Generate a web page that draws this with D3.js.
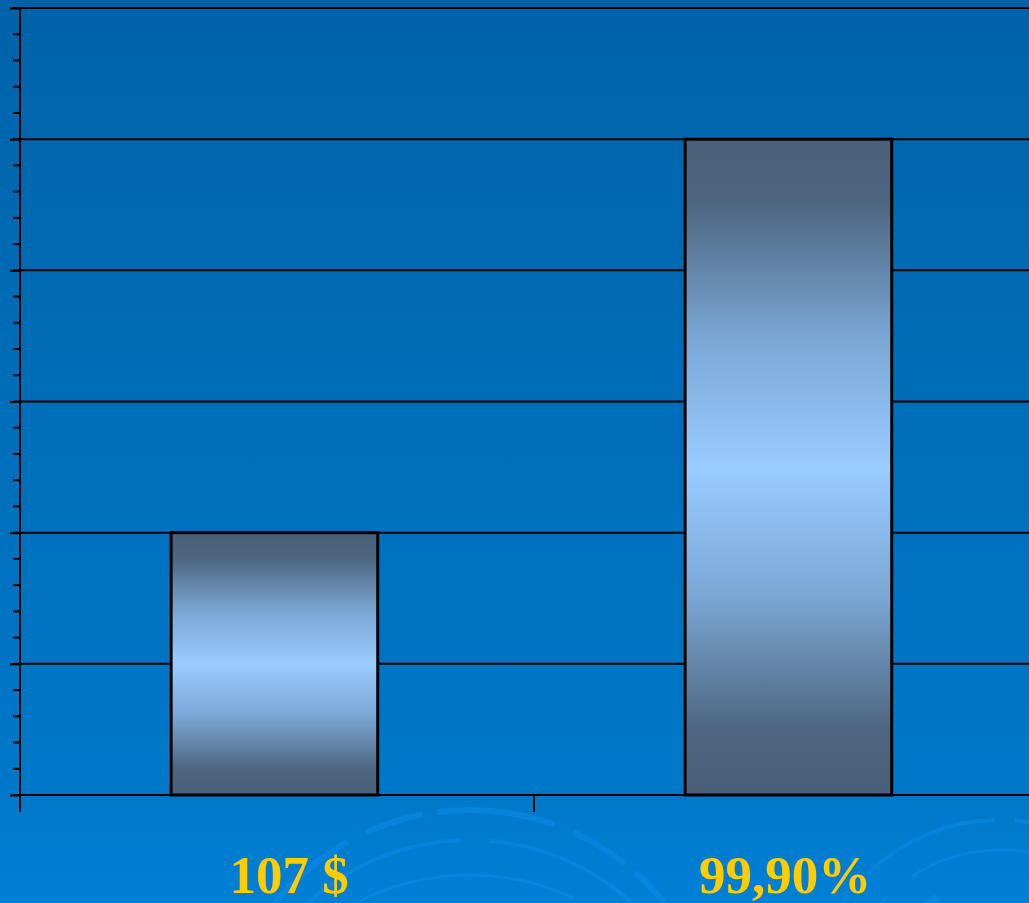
<!DOCTYPE html>
<html>
<head>
<meta charset="utf-8">
<script src="https://cdn.jsdelivr.net/npm/d3@7"></script>
<style>
  html, body { margin: 0; padding: 0; overflow: hidden; }
  svg { display: block; }
</style>
</head>
<body>
<div id="svg-area"></div>
<script>
var categories = ["107 $", "99,90%"];
var values = [2, 5];
var yTicks = [0, 1, 2, 3, 4, 5, 6];

var svgWidth = 1029;
var svgHeight = 903;

var margin = { top: 8, right: 0, bottom: 108, left: 20 };
var chartwidth = 1028; // plot runs past the right edge of the picture
var chartheight = svgHeight - margin.top - margin.bottom;

var svg = d3.select("#svg-area")
  .append("svg")
  .attr("width", svgWidth)
  .attr("height", svgHeight);

var defs = svg.append("defs");

// background gradient
var bg = defs.append("linearGradient")
  .attr("id", "bg").attr("x1", 0).attr("y1", 0).attr("x2", 0).attr("y2", 1);
bg.append("stop").attr("offset", "0%").attr("stop-color", "#0063a9");
bg.append("stop").attr("offset", "88%").attr("stop-color", "#0078c9");
bg.append("stop").attr("offset", "100%").attr("stop-color", "#0080d6");

// bar gradient, dark at both ends, light in the middle
var bar = defs.append("linearGradient")
  .attr("id", "bar").attr("x1", 0).attr("y1", 0).attr("x2", 0).attr("y2", 1);
bar.append("stop").attr("offset", "0%").attr("stop-color", "#4a5f78");
bar.append("stop").attr("offset", "10%").attr("stop-color", "#4e6680");
bar.append("stop").attr("offset", "30%").attr("stop-color", "#7aa6d4");
bar.append("stop").attr("offset", "50%").attr("stop-color", "#99ccff");
bar.append("stop").attr("offset", "70%").attr("stop-color", "#7aa6d4");
bar.append("stop").attr("offset", "90%").attr("stop-color", "#4e6680");
bar.append("stop").attr("offset", "100%").attr("stop-color", "#4a5f78");

svg.append("rect")
  .attr("width", svgWidth).attr("height", svgHeight)
  .attr("fill", "url(#bg)");

// faint swirl decoration at the bottom
var deco = svg.append("g")
  .attr("fill", "none")
  .attr("stroke", "#0a8ae6")
  .attr("stroke-opacity", 0.6);
[[470, 1060, 250, 6, "60 14 120 20"], [470, 1080, 240, 4, "200 30"], [470, 1120, 245, 3, "300 20"],
 [470, 1110, 200, 2, "400 40"],
 [1000, 1010, 190, 4, "140 20 60 30"], [1000, 1010, 160, 3, "300 30"], [1000, 1000, 120, 8, "500"]].forEach(function(a) {
  deco.append("circle")
    .attr("cx", a[0]).attr("cy", a[1])
    .attr("r", a[2])
    .attr("stroke-width", a[3])
    .attr("stroke-dasharray", a[4]);
});

var chartGroup = svg.append("g")
  .attr("transform", `translate(${margin.left}, ${margin.top})`);

var xCatScale = d3.scaleBand()
  .domain(categories)
  .range([0, chartwidth]);

var yLinearScale = d3.scaleLinear()
  .domain([0, 6])
  .range([chartheight, 0]);

var barOffset = 0.294 * xCatScale.bandwidth();
var barWidth = 0.402 * xCatScale.bandwidth();

// gridlines
chartGroup.append("g")
  .selectAll("line")
  .data(yTicks.slice(1))
  .enter()
  .append("line")
  .attr("x1", 0)
  .attr("x2", chartwidth)
  .attr("y1", d => yLinearScale(d))
  .attr("y2", d => yLinearScale(d))
  .attr("stroke", "#000")
  .attr("stroke-width", 2);

// minor ticks
var minorTicks = d3.range(0, 6.001, 0.2);
chartGroup.append("g")
  .selectAll("line")
  .data(minorTicks)
  .enter()
  .append("line")
  .attr("x1", -7)
  .attr("x2", 0)
  .attr("y1", d => yLinearScale(d))
  .attr("y2", d => yLinearScale(d))
  .attr("stroke", "#000")
  .attr("stroke-width", 2);

// left axis with major ticks
var leftAxis = d3.axisLeft(yLinearScale)
  .tickValues(yTicks)
  .tickSize(10)
  .tickFormat("");
var yAxisG = chartGroup.append("g").call(leftAxis);
yAxisG.select(".domain").remove();
yAxisG.selectAll(".tick line").attr("stroke", "#000").attr("stroke-width", 2);
chartGroup.append("line")
  .attr("x1", 0).attr("x2", 0)
  .attr("y1", 0).attr("y2", chartheight + 17)
  .attr("stroke", "#000").attr("stroke-width", 2);

// bottom axis
chartGroup.append("line")
  .attr("x1", 0).attr("x2", chartwidth)
  .attr("y1", chartheight).attr("y2", chartheight)
  .attr("stroke", "#000").attr("stroke-width", 2);
chartGroup.append("line")
  .attr("x1", xCatScale(categories[1]))
  .attr("x2", xCatScale(categories[1]))
  .attr("y1", chartheight).attr("y2", chartheight + 17)
  .attr("stroke", "#000").attr("stroke-width", 2);

// bars
chartGroup.selectAll(".bar")
  .data(values)
  .enter()
  .append("rect")
  .attr("class", "bar")
  .attr("x", (d, i) => xCatScale(categories[i]) + barOffset)
  .attr("y", d => yLinearScale(d))
  .attr("width", barWidth)
  .attr("height", d => chartheight - yLinearScale(d))
  .attr("fill", "url(#bar)")
  .attr("stroke", "#000")
  .attr("stroke-width", 3);

// category labels
var labelShift = [12, -6];
chartGroup.selectAll(".cat")
  .data(categories)
  .enter()
  .append("text")
  .attr("class", "cat")
  .attr("x", (d, i) => xCatScale(d) + xCatScale.bandwidth() / 2 + labelShift[i])
  .attr("y", chartheight + 98)
  .attr("text-anchor", "middle")
  .attr("font-family", "'Liberation Serif', 'Times New Roman', serif")
  .attr("font-weight", "bold")
  .attr("font-size", 53)
  .attr("fill", "#ffcc00")
  .text(d => d);
</script>
</body>
</html>
